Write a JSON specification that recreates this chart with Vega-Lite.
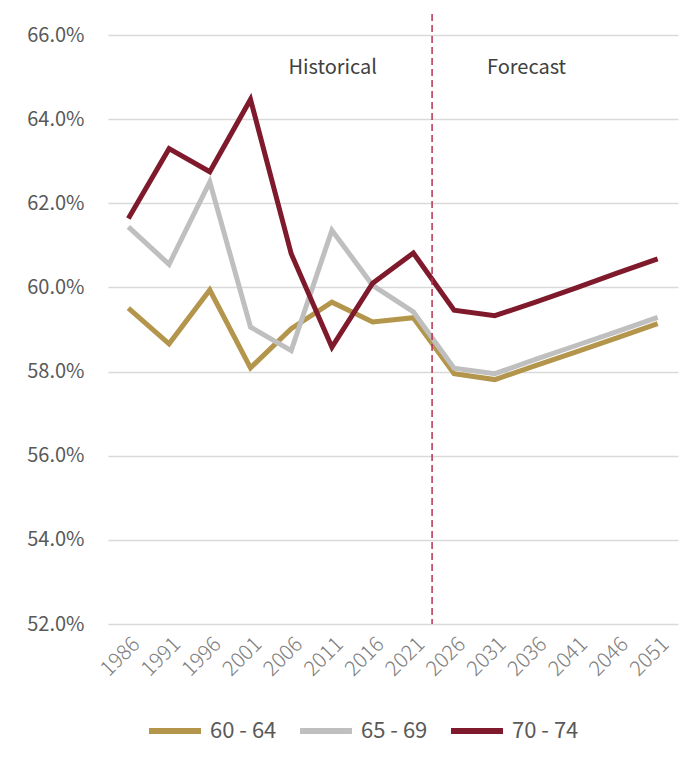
{
  "$schema": "https://vega.github.io/schema/vega-lite/v6.json",
  "autosize": {"type": "none"},
  "width": 570,
  "height": 610,
  "padding": {"left": 108, "top": 14, "right": 15, "bottom": 140},
  "background": "white",
  "config": {
    "view": {"stroke": null},
    "font": "Noto Sans CJK JP",
    "axis": {"labelFont": "Noto Sans CJK JP"},
    "legend": {"labelFont": "Noto Sans CJK JP"}
  },
  "datasets": {
    "series": [
      {"year": 1986, "group": "60 - 64", "value": 0.5951},
      {"year": 1991, "group": "60 - 64", "value": 0.5866},
      {"year": 1996, "group": "60 - 64", "value": 0.5994},
      {"year": 2001, "group": "60 - 64", "value": 0.5809},
      {"year": 2006, "group": "60 - 64", "value": 0.5902},
      {"year": 2011, "group": "60 - 64", "value": 0.5965},
      {"year": 2016, "group": "60 - 64", "value": 0.5918},
      {"year": 2021, "group": "60 - 64", "value": 0.5928},
      {"year": 2026, "group": "60 - 64", "value": 0.5795},
      {"year": 2031, "group": "60 - 64", "value": 0.5781},
      {"year": 2036, "group": "60 - 64", "value": 0.5814},
      {"year": 2041, "group": "60 - 64", "value": 0.5847},
      {"year": 2046, "group": "60 - 64", "value": 0.5880},
      {"year": 2051, "group": "60 - 64", "value": 0.5914},
      {"year": 1986, "group": "65 - 69", "value": 0.6144},
      {"year": 1991, "group": "65 - 69", "value": 0.6055},
      {"year": 1996, "group": "65 - 69", "value": 0.6251},
      {"year": 2001, "group": "65 - 69", "value": 0.5906},
      {"year": 2006, "group": "65 - 69", "value": 0.5850},
      {"year": 2011, "group": "65 - 69", "value": 0.6136},
      {"year": 2016, "group": "65 - 69", "value": 0.6005},
      {"year": 2021, "group": "65 - 69", "value": 0.5942},
      {"year": 2026, "group": "65 - 69", "value": 0.5808},
      {"year": 2031, "group": "65 - 69", "value": 0.5795},
      {"year": 2036, "group": "65 - 69", "value": 0.5829},
      {"year": 2041, "group": "65 - 69", "value": 0.5862},
      {"year": 2046, "group": "65 - 69", "value": 0.5895},
      {"year": 2051, "group": "65 - 69", "value": 0.5929},
      {"year": 1986, "group": "70 - 74", "value": 0.6164},
      {"year": 1991, "group": "70 - 74", "value": 0.6330},
      {"year": 1996, "group": "70 - 74", "value": 0.6275},
      {"year": 2001, "group": "70 - 74", "value": 0.6447},
      {"year": 2006, "group": "70 - 74", "value": 0.6080},
      {"year": 2011, "group": "70 - 74", "value": 0.5858},
      {"year": 2016, "group": "70 - 74", "value": 0.6010},
      {"year": 2021, "group": "70 - 74", "value": 0.6082},
      {"year": 2026, "group": "70 - 74", "value": 0.5946},
      {"year": 2031, "group": "70 - 74", "value": 0.5933},
      {"year": 2036, "group": "70 - 74", "value": 0.5965},
      {"year": 2041, "group": "70 - 74", "value": 0.5999},
      {"year": 2046, "group": "70 - 74", "value": 0.6034},
      {"year": 2051, "group": "70 - 74", "value": 0.6068}
    ]
  },
  "layer": [
    {
      "data": {"name": "series"},
      "mark": {"type": "line", "strokeWidth": 5, "strokeJoin": "miter", "strokeCap": "butt"},
      "encoding": {
        "x": {
          "field": "year", "type": "quantitative",
          "scale": {"domain": [1983.5, 2053.5], "nice": false, "zero": false},
          "axis": {
            "values": [1986, 1991, 1996, 2001, 2006, 2011, 2016, 2021, 2026, 2031, 2036, 2041, 2046, 2051],
            "format": "d", "title": null, "grid": false, "domain": false, "ticks": false,
            "labelAngle": -45, "labelFontSize": 21, "labelFontWeight": 300, "labelColor": "#808080", "labelPadding": 9,
            "labelFlush": false, "labelOverlap": false
          }
        },
        "y": {
          "field": "value", "type": "quantitative",
          "scale": {"domain": [0.52, 0.665], "nice": false, "zero": false},
          "axis": {
            "values": [0.52, 0.54, 0.56, 0.58, 0.60, 0.62, 0.64, 0.66],
            "format": ".1%", "title": null, "domain": false, "ticks": false,
            "gridColor": "#D9D9D9", "gridWidth": 1.5,
            "labelFontSize": 20, "labelColor": "#595959", "labelPadding": 24
          }
        },
        "color": {
          "field": "group", "type": "nominal",
          "scale": {"domain": ["60 - 64", "65 - 69", "70 - 74"], "range": ["#B3954B", "#BFBFBF", "#7E1A2C"]},
          "legend": {
            "title": null, "orient": "none", "direction": "horizontal",
            "legendX": 38, "legendY": 688,
            "symbolType": "stroke", "symbolStrokeWidth": 6, "symbolSize": 2700,
            "labelFontSize": 22, "labelColor": "#595959", "labelOffset": 6,
            "columnPadding": 11
          }
        }
      }
    },
    {
      "data": {"values": [{"divider": 2023.3}]},
      "mark": {"type": "rule", "color": "#B8324F", "strokeWidth": 1.5, "strokeDash": [7, 4]},
      "encoding": {"x": {"field": "divider", "type": "quantitative"}}
    },
    {
      "data": {"values": [
        {"label": "Historical", "year": 2011.1, "value": 0.6521},
        {"label": "Forecast", "year": 2034.9, "value": 0.6521}
      ]},
      "mark": {"type": "text", "fontSize": 20, "color": "#404040", "align": "center", "baseline": "middle"},
      "encoding": {
        "x": {"field": "year", "type": "quantitative"},
        "y": {"field": "value", "type": "quantitative"},
        "text": {"field": "label"}
      }
    }
  ]
}
